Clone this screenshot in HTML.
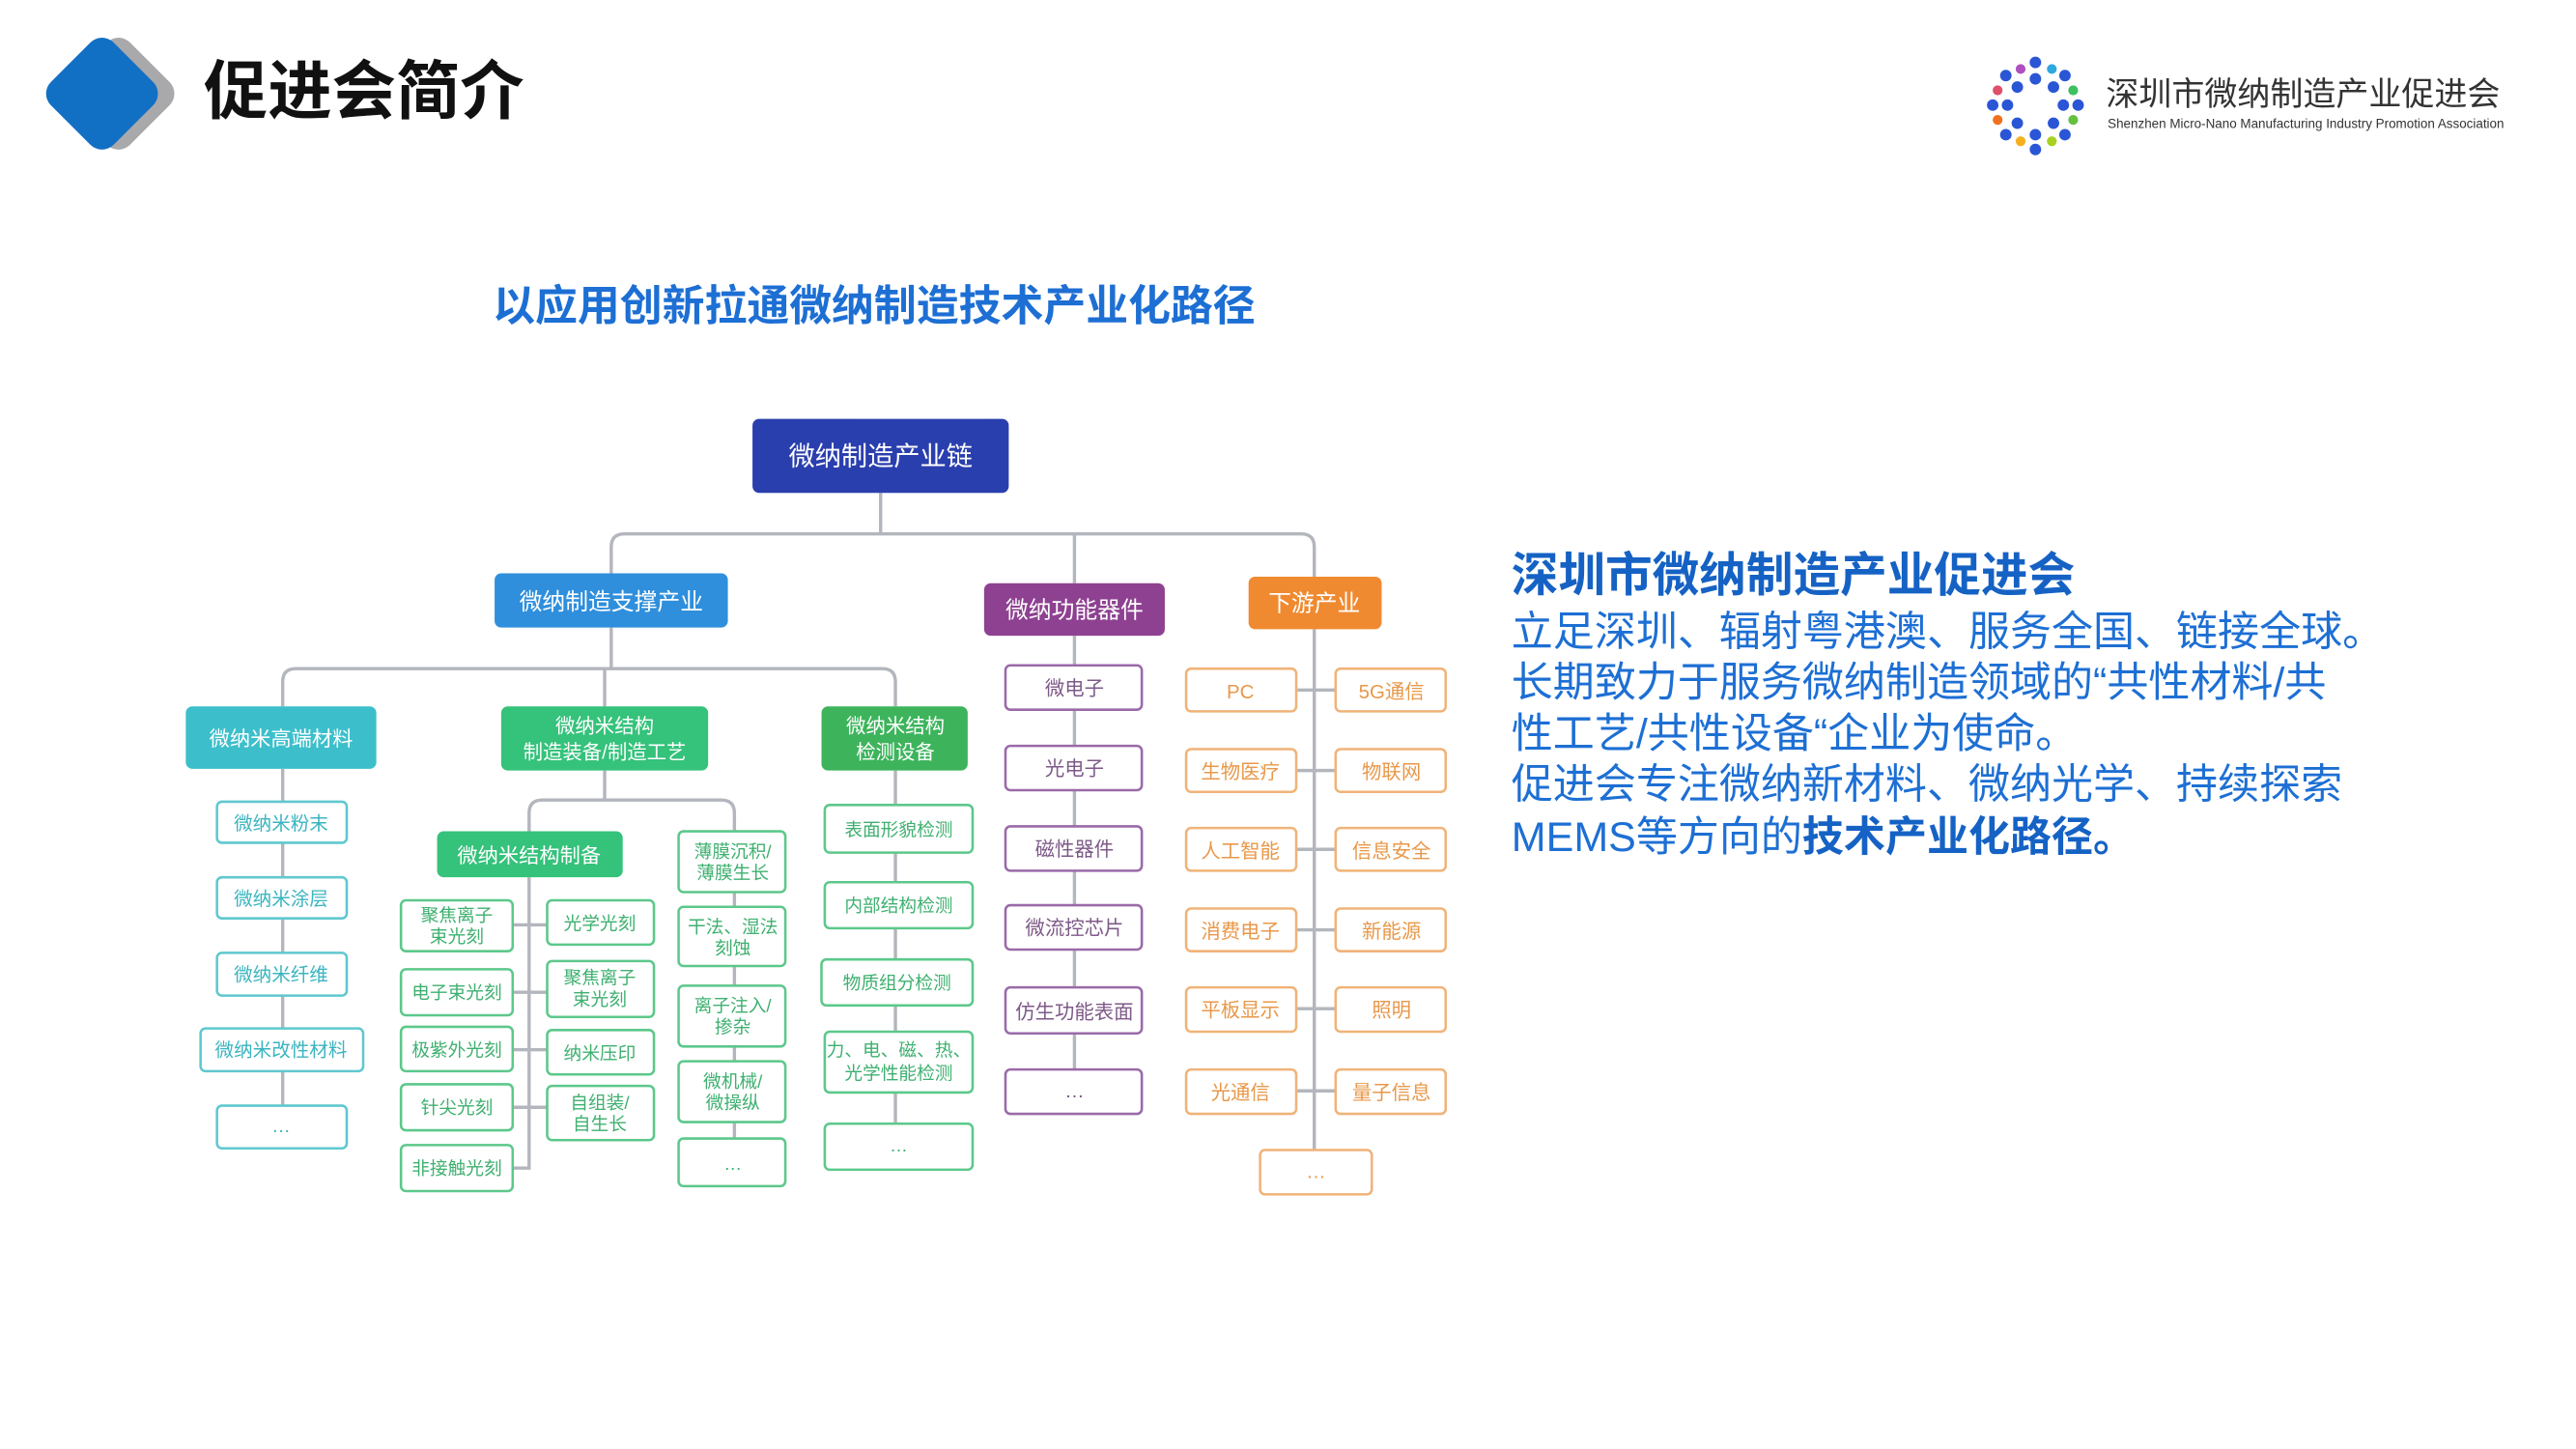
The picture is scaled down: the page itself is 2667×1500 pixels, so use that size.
<!DOCTYPE html>
<html><head><meta charset="utf-8"><style>
html,body{margin:0;padding:0;background:#fff;}
svg{display:block;}
text{font-family:"Liberation Sans","Noto Sans CJK SC",sans-serif;}
</style></head><body>
<svg width="2667" height="1500" viewBox="0 0 1568 882" xmlns="http://www.w3.org/2000/svg">
<rect width="1568" height="882" fill="#fff"/>
<!-- header -->
<rect x="45" y="30" width="54" height="54" rx="10" transform="rotate(45 72 57)" fill="#a9a9ab"/>
<rect x="35" y="30" width="54" height="54" rx="10" transform="rotate(45 62 57)" fill="#1270c4"/>
<text x="124" y="69" font-size="39" font-weight="bold" fill="#111">促进会简介</text>
<!-- logo -->
<g fill="#2a56d6">
<circle cx="1239" cy="38" r="3.5"/><circle cx="1239" cy="48" r="3.5"/><circle cx="1239" cy="82" r="3.5"/><circle cx="1239" cy="91" r="3.5"/>
<circle cx="1213" cy="64" r="3.5"/><circle cx="1222" cy="64" r="3.5"/><circle cx="1256" cy="64" r="3.5"/><circle cx="1265" cy="64" r="3.5"/>
<circle cx="1221" cy="46" r="3.5"/><circle cx="1228" cy="53" r="3.5"/><circle cx="1257" cy="46" r="3.5"/><circle cx="1250" cy="53" r="3.5"/>
<circle cx="1221" cy="82" r="3.5"/><circle cx="1228" cy="75" r="3.5"/><circle cx="1257" cy="82" r="3.5"/><circle cx="1250" cy="75" r="3.5"/>
</g>
<circle cx="1230" cy="42" r="3" fill="#b04fc0"/><circle cx="1249" cy="42" r="3" fill="#2fa8e0"/>
<circle cx="1216" cy="55" r="3" fill="#e0506a"/><circle cx="1262" cy="55" r="3" fill="#3cc060"/>
<circle cx="1216" cy="73" r="3" fill="#f07020"/><circle cx="1262" cy="73" r="3" fill="#66c040"/>
<circle cx="1230" cy="86" r="3" fill="#f5b020"/><circle cx="1249" cy="86" r="3" fill="#a8d020"/>
<text x="1282" y="64" font-size="20" fill="#333">深圳市微纳制造产业促进会</text>
<text x="1283" y="78" font-size="7.9" fill="#333">Shenzhen Micro-Nano Manufacturing Industry Promotion Association</text>
<!-- title -->
<text x="532" y="195" font-size="25.8" font-weight="bold" fill="#1d6fd4" text-anchor="middle">以应用创新拉通微纳制造技术产业化路径</text>
<!-- right text -->
<text x="920" y="360" font-size="28.6" font-weight="bold" fill="#1562c4">深圳市微纳制造产业促进会</text>
<g font-size="25.3" fill="#1d6fd4">
<text x="920" y="393">立足深圳、辐射粤港澳、服务全国、链接全球。</text>
<text x="920" y="424">长期致力于服务微纳制造领域的“共性材料/共</text>
<text x="920" y="455">性工艺/共性设备“企业为使命。</text>
<text x="920" y="486">促进会专注微纳新材料、微纳光学、持续探索</text>
<text x="920" y="518">MEMS等方向的<tspan font-weight="bold" fill="#1562c4">技术产业化路径。</tspan></text>
</g>
<!-- connectors -->
<g stroke="#b3b6bd" stroke-width="2" fill="none">
<path d="M536 300 V325"/>
<path d="M372 349 V333 Q372 325 380 325 H792 Q800 325 800 333 V351"/>
<path d="M654 325 V355"/>
<path d="M372 382 V407"/>
<path d="M172 430 V415 Q172 407 180 407 H537 Q545 407 545 415 V430"/>
<path d="M368 407 V430"/>
<path d="M172 468 V686"/>
<path d="M368 469 V487"/>
<path d="M322 506 V495 Q322 487 330 487 H439 Q447 487 447 495 V708"/>
<path d="M322 534 V711 H312"/>
<path d="M312 563 H333 M312 604 H333 M312 639 H333 M312 674 H333"/>
<path d="M545 469 V698"/>
<path d="M654 387 V665"/>
<path d="M800 383 V700"/>
<path d="M789 420 H813 M789 469 H813 M789 517 H813 M789 566 H813 M789 614 H813 M789 664 H813"/>
</g>
<!-- main nodes -->
<rect x="458" y="255" width="156" height="45" rx="4" fill="#2a3fae"/>
<text x="536" y="283" font-size="16" fill="#fff" text-anchor="middle">微纳制造产业链</text>
<rect x="301" y="349" width="142" height="33" rx="4" fill="#2f8fdc"/>
<text x="372" y="371" font-size="14" fill="#fff" text-anchor="middle">微纳制造支撑产业</text>
<rect x="599" y="355" width="110" height="32" rx="4" fill="#8e4191"/>
<text x="654" y="376" font-size="14" fill="#fff" text-anchor="middle">微纳功能器件</text>
<rect x="760" y="351" width="81" height="32" rx="4" fill="#f08a30"/>
<text x="800" y="372" font-size="14" fill="#fff" text-anchor="middle">下游产业</text>
<rect x="113" y="430" width="116" height="38" rx="4" fill="#3cbfcb"/>
<text x="171" y="454" font-size="12.5" fill="#fff" text-anchor="middle">微纳米高端材料</text>
<rect x="305" y="430" width="126" height="39" rx="4" fill="#35c27b"/>
<text x="368" y="446" font-size="12" fill="#fff" text-anchor="middle">微纳米结构</text>
<text x="368" y="462" font-size="12" fill="#fff" text-anchor="middle">制造装备/制造工艺</text>
<rect x="500" y="430" width="89" height="39" rx="4" fill="#3db45c"/>
<text x="545" y="446" font-size="12" fill="#fff" text-anchor="middle">微纳米结构</text>
<text x="545" y="462" font-size="12" fill="#fff" text-anchor="middle">检测设备</text>
<rect x="266" y="506" width="113" height="28" rx="4" fill="#35c27b"/>
<text x="322" y="525" font-size="12.5" fill="#fff" text-anchor="middle">微纳米结构制备</text>
<!-- teal column -->
<g fill="#fff" stroke="#5fc8cf" stroke-width="1.5">
<rect x="132" y="488" width="79" height="25" rx="3"/><rect x="132" y="534" width="79" height="25" rx="3"/>
<rect x="132" y="580" width="79" height="26" rx="3"/><rect x="122" y="626" width="99" height="26" rx="3"/>
<rect x="132" y="673" width="79" height="26" rx="3"/>
</g>
<g font-size="11.5" fill="#3bb5c0" text-anchor="middle">
<text x="171" y="505">微纳米粉末</text><text x="171" y="551">微纳米涂层</text><text x="171" y="597">微纳米纤维</text>
<text x="171" y="643">微纳米改性材料</text><text x="171" y="689">…</text>
</g>
<!-- green boxes -->
<g fill="#fff" stroke="#5cc88a" stroke-width="1.5">
<rect x="244" y="548" width="68" height="31" rx="3"/><rect x="244" y="590" width="68" height="28" rx="3"/>
<rect x="244" y="625" width="68" height="27" rx="3"/><rect x="244" y="660" width="68" height="28" rx="3"/>
<rect x="244" y="697" width="68" height="28" rx="3"/>
<rect x="333" y="548" width="65" height="27" rx="3"/><rect x="333" y="585" width="65" height="34" rx="3"/>
<rect x="333" y="627" width="65" height="27" rx="3"/><rect x="333" y="661" width="65" height="33" rx="3"/>
<rect x="413" y="506" width="65" height="37" rx="3"/><rect x="413" y="552" width="65" height="36" rx="3"/>
<rect x="413" y="600" width="65" height="37" rx="3"/><rect x="413" y="646" width="65" height="37" rx="3"/>
<rect x="413" y="693" width="65" height="29" rx="3"/>
<rect x="502" y="490" width="90" height="29" rx="3"/><rect x="502" y="537" width="90" height="28" rx="3"/>
<rect x="500" y="584" width="92" height="28" rx="3"/><rect x="502" y="628" width="90" height="37" rx="3"/>
<rect x="502" y="684" width="90" height="28" rx="3"/>
</g>
<g font-size="11" fill="#3fb070" text-anchor="middle">
<text x="278" y="561">聚焦离子</text><text x="278" y="574">束光刻</text>
<text x="278" y="608">电子束光刻</text><text x="278" y="643">极紫外光刻</text>
<text x="278" y="678">针尖光刻</text><text x="278" y="715">非接触光刻</text>
<text x="365" y="566">光学光刻</text>
<text x="365" y="599">聚焦离子</text><text x="365" y="612">束光刻</text>
<text x="365" y="645">纳米压印</text>
<text x="365" y="675">自组装/</text><text x="365" y="688">自生长</text>
<text x="446" y="522">薄膜沉积/</text><text x="446" y="535">薄膜生长</text>
<text x="446" y="568">干法、湿法</text><text x="446" y="581">刻蚀</text>
<text x="446" y="616">离子注入/</text><text x="446" y="629">掺杂</text>
<text x="446" y="662">微机械/</text><text x="446" y="675">微操纵</text>
<text x="446" y="712">…</text>
<text x="547" y="509">表面形貌检测</text><text x="547" y="555">内部结构检测</text>
<text x="546" y="602">物质组分检测</text>
<text x="547" y="643">力、电、磁、热、</text><text x="547" y="657">光学性能检测</text>
<text x="547" y="701">…</text>
</g>
<!-- purple column -->
<g fill="#fff" stroke="#9a6aa8" stroke-width="1.5">
<rect x="612" y="405" width="83" height="27" rx="3"/><rect x="612" y="454" width="83" height="27" rx="3"/>
<rect x="612" y="503" width="83" height="27" rx="3"/><rect x="612" y="551" width="83" height="27" rx="3"/>
<rect x="612" y="601" width="83" height="28" rx="3"/><rect x="612" y="651" width="83" height="27" rx="3"/>
</g>
<g font-size="12" fill="#7e5a88" text-anchor="middle">
<text x="654" y="423">微电子</text><text x="654" y="472">光电子</text><text x="654" y="521">磁性器件</text>
<text x="654" y="569">微流控芯片</text><text x="654" y="620">仿生功能表面</text><text x="654" y="668">…</text>
</g>
<!-- orange column -->
<g fill="#fff" stroke="#f0b378" stroke-width="1.5">
<rect x="722" y="407" width="67" height="26" rx="3"/><rect x="813" y="407" width="67" height="26" rx="3"/>
<rect x="722" y="456" width="67" height="26" rx="3"/><rect x="813" y="456" width="67" height="26" rx="3"/>
<rect x="722" y="504" width="67" height="26" rx="3"/><rect x="813" y="504" width="67" height="26" rx="3"/>
<rect x="722" y="553" width="67" height="26" rx="3"/><rect x="813" y="553" width="67" height="26" rx="3"/>
<rect x="722" y="601" width="67" height="27" rx="3"/><rect x="813" y="601" width="67" height="27" rx="3"/>
<rect x="722" y="651" width="67" height="27" rx="3"/><rect x="813" y="651" width="67" height="27" rx="3"/>
<rect x="767" y="700" width="68" height="27" rx="3"/>
</g>
<g font-size="12" fill="#e8984a" text-anchor="middle">
<text x="755" y="425">PC</text><text x="847" y="425">5G通信</text>
<text x="755" y="474">生物医疗</text><text x="847" y="474">物联网</text>
<text x="755" y="522">人工智能</text><text x="847" y="522">信息安全</text>
<text x="755" y="571">消费电子</text><text x="847" y="571">新能源</text>
<text x="755" y="619">平板显示</text><text x="847" y="619">照明</text>
<text x="755" y="669">光通信</text><text x="847" y="669">量子信息</text>
<text x="801" y="717">…</text>
</g>
</svg>
</body></html>
